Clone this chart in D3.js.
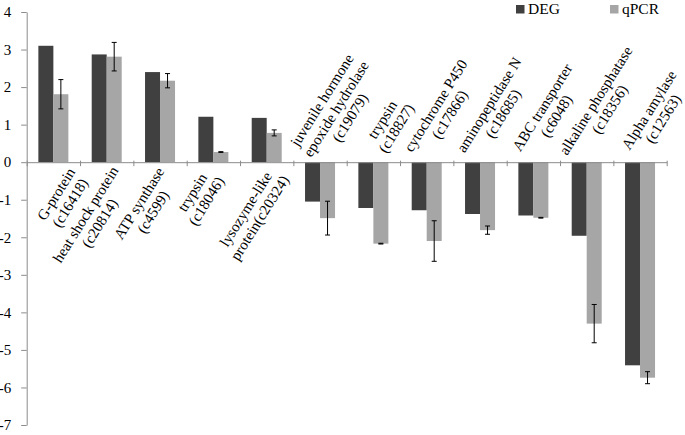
<!DOCTYPE html>
<html>
<head>
<meta charset="utf-8">
<script src="https://cdn.jsdelivr.net/npm/d3@7"></script>
<style>
  body { margin: 0; background: #fff; }
  svg text { font-family: "Liberation Serif", "Times New Roman", serif; fill: #000; }
</style>
</head>
<body>
<div id="chart"></div>
<script>
// 유전자 카테고리 (줄 단위 라벨)
const categories = [
    ['G-protein', '(c16418)'],
    ['heat shock protein', '(c20814)'],
    ['ATP synthase', '(c4599)'],
    ['trypsin', '(c18046)'],
    ['lysozyme-like', 'protein(c20324)'],
    ['juvenile hormone', 'epoxide hydrolase', '(c19079)'],
    ['trypsin', '(c18827)'],
    ['cytochrome P450', '(c17866)'],
    ['aminopeptidase N', '(c18685)'],
    ['ABC transporter', '(c6048)'],
    ['alkaline phosphatase', '(c18356)'],
    ['Alpha amylase', '(c12563)']
];
const seriesNames = ['DEG', 'qPCR'];
const degValues = [3.10, 2.87, 2.40, 1.21, 1.18, -1.05, -1.22, -1.28, -1.38, -1.42, -1.96, -5.41];
const qpcrValues = [1.81, 2.81, 2.17, 0.27, 0.78, -1.49, -2.17, -2.10, -1.81, -1.48, -4.30, -5.74];
const qpcrErrors = [0.39, 0.38, 0.19, 0.01, 0.08, 0.45, 0.01, 0.54, 0.11, 0.01, 0.51, 0.16];
const yTicks = [4, 3, 2, 1, 0, -1, -2, -3, -4, -5, -6, -7];

const colors = { DEG: '#404040', qPCR: '#a6a6a6' };
const axisColor = '#8c8c8c';

const width = 685, height = 435;
const plotLeft = 26.7, plotRight = 666.7, plotTop = 12, plotBottom = 425;

const svg = d3.select('#chart')
    .append('svg')
    .attr('width', width)
    .attr('height', height);

const idx = categories.map((d, i) => i);

const x = d3.scaleBand().domain(idx).range([plotLeft, plotRight]).padding(0);
const xInner = d3.scaleBand().domain(seriesNames)
    .range([0, x.bandwidth()])
    .paddingInner(0).paddingOuter(0.778);
const y = d3.scaleLinear().domain([-7, 4]).range([plotBottom, plotTop]);

// Y축
const yAxis = svg.append('g')
    .attr('transform', `translate(${plotLeft},0)`)
    .call(d3.axisLeft(y).tickValues(yTicks).tickSize(5.5).tickSizeOuter(0).tickPadding(10).tickFormat(d3.format('d')));
yAxis.select('.domain').attr('stroke', axisColor);
yAxis.selectAll('.tick line').attr('stroke', axisColor);
yAxis.selectAll('.tick text').style('font-size', '15px').attr('fill', '#000')
    .text(d => d < 0 ? '-' + Math.abs(d) : d);

// 막대
const rows = idx.map(i => ({ i, DEG: degValues[i], qPCR: qpcrValues[i], err: qpcrErrors[i] }));

const groups = svg.selectAll('.cat')
    .data(rows)
    .enter()
    .append('g')
    .attr('class', 'cat')
    .attr('transform', d => `translate(${x(d.i)},0)`);

groups.selectAll('rect')
    .data(d => seriesNames.map(s => ({ s, v: d[s] })))
    .enter()
    .append('rect')
    .attr('x', d => xInner(d.s))
    .attr('width', xInner.bandwidth())
    .attr('y', d => y(Math.max(0, d.v)))
    .attr('height', d => Math.abs(y(d.v) - y(0)))
    .attr('fill', d => colors[d.s]);

// 오차 막대 (qPCR)
const errX = xInner('qPCR') + xInner.bandwidth() / 2;
groups.append('line')
    .attr('x1', errX).attr('x2', errX)
    .attr('y1', d => y(d.qPCR + d.err))
    .attr('y2', d => y(d.qPCR - d.err))
    .attr('stroke', '#000').attr('stroke-width', 1);
[1, -1].forEach(sign => {
    groups.append('line')
        .attr('x1', errX - 2.5).attr('x2', errX + 2.5)
        .attr('y1', d => y(d.qPCR + sign * d.err))
        .attr('y2', d => y(d.qPCR + sign * d.err))
        .attr('stroke', '#000').attr('stroke-width', 1);
});

// X축 (0 기준선)
const xTickScale = d3.scaleLinear().domain([0, categories.length]).range([plotLeft, plotRight]);
const xAxis = svg.append('g')
    .attr('transform', `translate(0,${y(0)})`)
    .call(d3.axisBottom(xTickScale).ticks(categories.length).tickSize(4).tickSizeOuter(0).tickFormat(''));
xAxis.select('.domain').attr('stroke', axisColor);
xAxis.selectAll('.tick line').attr('stroke', axisColor).attr('y1', -1.5);

// 카테고리 라벨 (회전, 양수는 축 아래 / 음수는 축 위)
const angle = -58;
const rad = Math.abs(angle) * Math.PI / 180;
const lineH = 16.5;
const labels = svg.selectAll('.label')
    .data(rows)
    .enter()
    .append('g')
    .attr('class', 'label');

labels.each(function(d) {
    const g = d3.select(this);
    const lines = categories[d.i];
    const n = lines.length;
    const texts = lines.map((t, k) => g.append('text')
        .style('font-size', '15px')
        .attr('text-anchor', 'middle')
        .attr('x', 0)
        .attr('y', (k - (n - 1) / 2) * lineH + 5)
        .text(t));
    const halfW = d3.max(texts, t => t.node().getComputedTextLength()) / 2;
    const boxHalf = (halfW * 2 * Math.cos(rad) + n * lineH * Math.sin(rad)) / 2;
    const cx = x(d.i) + x.bandwidth() / 2;
    let px, py;
    if (d.DEG >= 0) {
        // 왼쪽 끝을 넘지 않도록 밀어줌
        px = Math.max(cx - 14, plotLeft + 7 + boxHalf);
        py = y(0) + 13.2 + 0.79 * halfW;
    } else {
        px = cx + 16;
        py = y(0) - 23.6 - 0.54 * halfW;
    }
    g.attr('transform', `translate(${px},${py}) rotate(${angle})`);
});

// 범례
const legendX = [516, 610];
const legend = svg.selectAll('.legend')
    .data(seriesNames)
    .enter()
    .append('g')
    .attr('class', 'legend')
    .attr('transform', (d, i) => `translate(${legendX[i]},5)`);
legend.append('rect')
    .attr('width', 8.5).attr('height', 8.5)
    .attr('fill', d => colors[d]);
legend.append('text')
    .attr('x', 12).attr('y', 9)
    .style('font-size', '15.5px')
    .text(d => d);
</script>
</body>
</html>
